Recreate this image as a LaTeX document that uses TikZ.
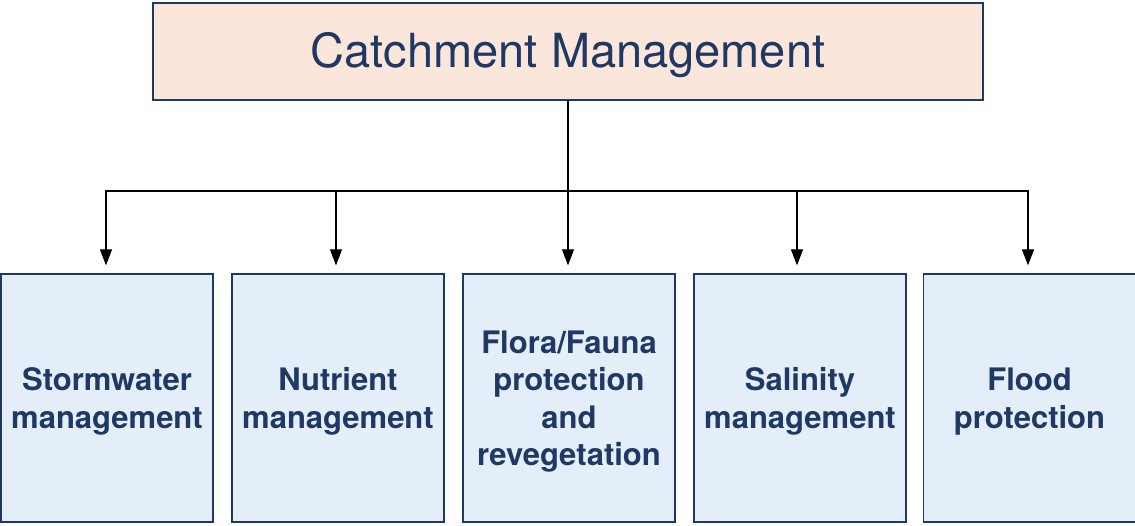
\documentclass[tikz,border=0pt]{standalone}
\usepackage{fontspec}
\setmainfont{TeX Gyre Heros}
\usetikzlibrary{arrows.meta}
\definecolor{navy}{HTML}{1F3864}
\definecolor{peach}{HTML}{FAE6DA}
\definecolor{paleblue}{HTML}{E4EEF8}
\tikzset{
  headbox/.style={draw=navy, line width=1.3pt, fill=peach,
    minimum width=830pt, minimum height=97pt, inner sep=0pt},
  headtext/.style={text=navy, inner sep=0pt, font=\fontsize{47}{56}\selectfont},
  topicbox/.style={draw=navy, line width=1.3pt, fill=paleblue,
    minimum width=212pt, minimum height=248pt, inner sep=0pt},
  topictext/.style={text=navy, inner sep=0pt, align=center,
    font=\fontsize{31}{37.5}\selectfont\bfseries},
  feed/.style={draw=black, line width=1.2pt, -{Triangle[length=16pt,width=12pt]}}
}
\begin{document}
\begin{tikzpicture}[x=1pt,y=-1pt]
  \useasboundingbox (0,0) rectangle (1135,525);
  % heading box
  \node[headbox] (top) at (568,51.5) {};
  \node[headtext] (toptext) at ([yshift=-4pt]top.center) {Catchment Management};
  % topic boxes
  \node[topicbox] (b1) at (107,398) {};
  \node[topicbox] (b2) at (338,398) {};
  \node[topicbox] (b3) at (569,398) {};
  \node[topicbox] (b4) at (800,398) {};
  \node[topicbox] (b5) at (1029.5,398) {};
  \node[topictext] (t1) at ([yshift=-3.5pt]b1.center) {Stormwater\\management};
  \node[topictext] (t2) at ([yshift=-3.5pt]b2.center) {Nutrient\\management};
  \node[topictext] (t3) at ([yshift=-3.5pt]b3.center) {Flora/Fauna\\protection\\and\\revegetation};
  \node[topictext] (t4) at ([yshift=-3.5pt]b4.center) {Salinity\\management};
  \node[topictext] (t5) at ([yshift=-3.5pt]b5.center) {Flood\\protection};
  % branching connectors
  \coordinate (bus) at (568,191);
  \foreach \b/\x in {b1/106,b2/336,b3/568,b4/797,b5/1028}{
    \draw[feed] (top.south) -- (bus) -| ([yshift=8pt]\b.north -| \x,0);
  }
\end{tikzpicture}
\end{document}
